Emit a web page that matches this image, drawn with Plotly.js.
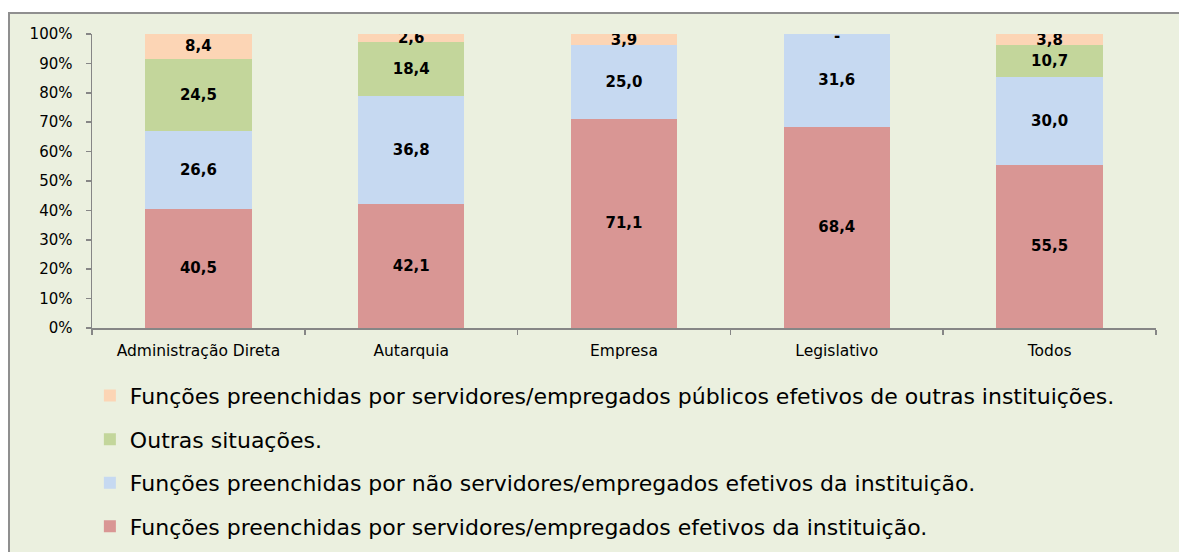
<!DOCTYPE html>
<html>
<head>
<meta charset="utf-8">
<script src="https://cdn.plot.ly/plotly-3.0.1.min.js"></script>
<style>
  html, body { margin: 0; padding: 0; background: #ffffff; width: 1179px; height: 552px; overflow: hidden; }
  #chart { position: absolute; left: 8px; top: 12px; width: 1169px; height: 538px;
           border-left: 2px solid #8F8F8F; border-top: 2px solid #8F8F8F; }
</style>
</head>
<body>
<div id="chart"></div>
<script>
const categories = ['Administração Direta', 'Autarquia', 'Empresa', 'Legislativo', 'Todos'];

const efetivosInstituicao = [40.5, 42.1, 71.1, 68.4, 55.5];
const naoEfetivos = [26.6, 36.8, 25.0, 31.6, 30.0];
const outrasSituacoes = [24.5, 18.4, 0, 0, 10.7];
const efetivosOutrasInst = [8.4, 2.6, 3.9, 0, 3.8];

const seriesNames = [
  'Funções preenchidas por servidores/empregados efetivos da instituição.',
  'Funções preenchidas por não servidores/empregados efetivos da instituição.',
  'Outras situações.',
  'Funções preenchidas por servidores/empregados públicos efetivos de outras instituições.'
];
const seriesValues = [efetivosInstituicao, naoEfetivos, outrasSituacoes, efetivosOutrasInst];
const seriesColors = ['#D99694', '#C6D9F1', '#C3D69B', '#FCD5B5'];

const fmt = v => v > 0 ? v.toFixed(1).replace('.', ',') : '';

const traces = seriesValues.map((vals, i) => ({
  type: 'bar',
  name: seriesNames[i],
  x: categories,
  y: vals,
  text: vals.map(fmt),
  textposition: 'inside',
  insidetextanchor: 'middle',
  textangle: 0,
  constraintext: 'none',
  textfont: { family: 'DejaVu Sans', size: 15, color: '#000000', weight: 'bold' },
  marker: { color: seriesColors[i], line: { width: 0 } },
  legendgroup: 'g' + i,
  legendrank: seriesValues.length - i,
  hoverinfo: 'skip'
}));

// "-" marker for a zero value in the top series, placed at the top of its stack
const annotations = [];
const topVals = seriesValues[seriesValues.length - 1];
categories.forEach((c, k) => {
  if (topVals[k] === 0) {
    const total = seriesValues.reduce((s, arr) => s + arr[k], 0);
    annotations.push({
      x: c, y: total, xref: 'x', yref: 'y', text: '<b>-</b>', showarrow: false,
      yanchor: 'middle', yshift: -2,
      font: { family: 'DejaVu Sans', size: 15, color: '#000000' }
    });
  }
});

const layout = {
  width: 1169,
  height: 538,
  margin: { l: 82, r: 23, t: 20, b: 224, autoexpand: false },
  paper_bgcolor: '#EBF0DF',
  plot_bgcolor: '#EBF0DF',
  barmode: 'stack',
  bargap: 0.5,
  showlegend: true,
  xaxis: {
    type: 'category',
    showline: true, linecolor: '#868686', linewidth: 1.5,
    ticks: 'outside', tickson: 'boundaries', ticklen: 5, tickcolor: '#868686', tickwidth: 1.5,
    tickfont: { family: 'DejaVu Sans', size: 15.5, color: '#000000' },
    ticklabelstandoff: 8,
    showgrid: false, zeroline: false, fixedrange: true
  },
  yaxis: {
    range: [0, 100], dtick: 10, ticksuffix: '%',
    showline: true, linecolor: '#868686', linewidth: 1.5,
    ticks: 'outside', ticklen: 5, tickcolor: '#868686', tickwidth: 1.5,
    tickfont: { family: 'DejaVu Sans', size: 15, color: '#000000' },
    ticklabelstandoff: 10,
    showgrid: false, zeroline: false, fixedrange: true
  },
  legend: {
    orientation: 'v',
    x: -0.002, xanchor: 'left',
    y: -0.159, yanchor: 'top',
    traceorder: 'grouped',
    tracegroupgap: 12,
    bgcolor: 'rgba(0,0,0,0)',
    font: { family: 'DejaVu Sans', size: 22, color: '#000000' }
  },
  annotations: annotations
};

Plotly.newPlot('chart', traces, layout, { displayModeBar: false, staticPlot: true });
</script>
</body>
</html>
